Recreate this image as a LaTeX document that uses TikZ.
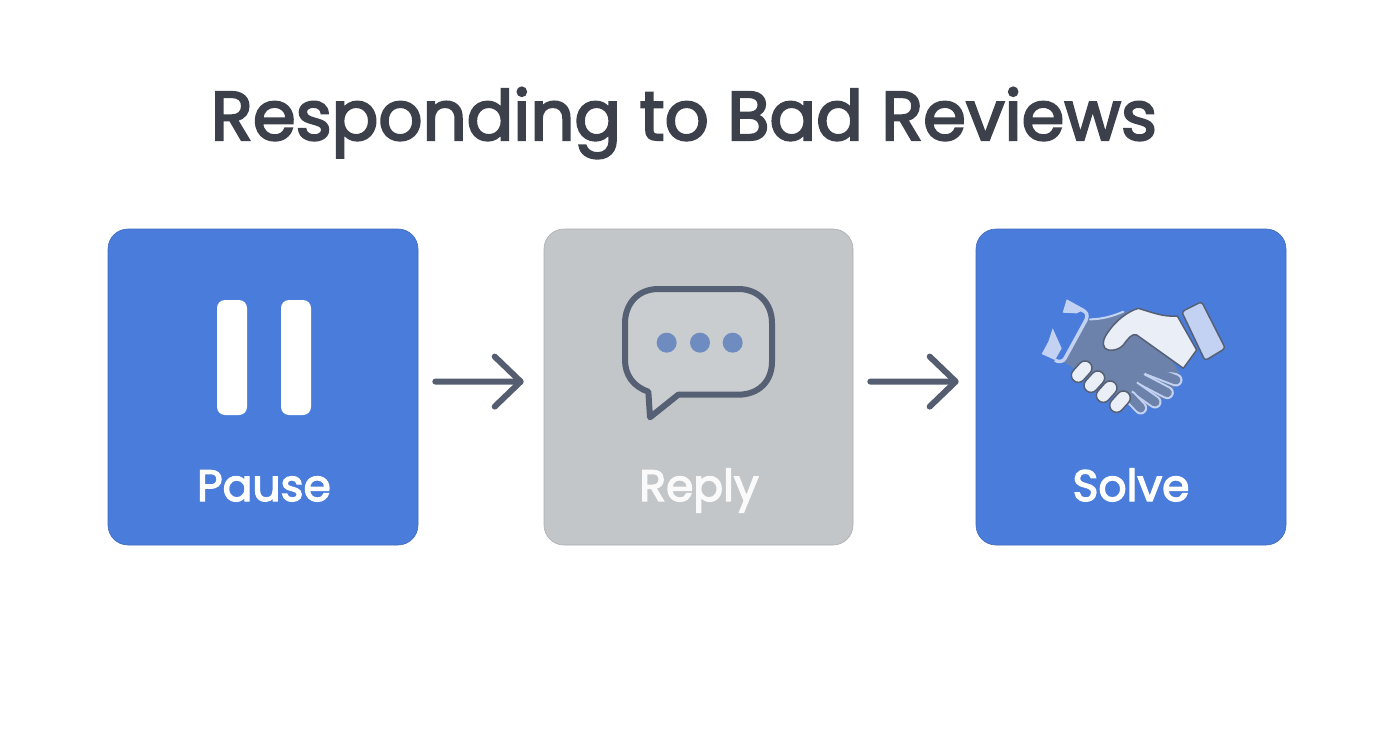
\documentclass[tikz,border=0pt]{standalone}
\usepackage{fontspec}
\usepackage{tikz}
\setmainfont{Poppins}
\newfontfamily\heavyfont[FakeBold=3]{Poppins}
\usetikzlibrary{arrows.meta}
\definecolor{cardblue}{HTML}{4A7DDB}
\definecolor{cardgray}{HTML}{C3C6C8}
\definecolor{inkdark}{HTML}{3C404B}
\definecolor{inkarrow}{HTML}{555E70}
\definecolor{inkline}{HTML}{566074}
\definecolor{dotblue}{HTML}{6E8CC0}
\definecolor{handdark}{HTML}{6C82AA}
\definecolor{handlight}{HTML}{E9EEF7}
\definecolor{cufflight}{HTML}{C3D2F2}
\tikzset{
    card/.style={rectangle, rounded corners=20pt, minimum width=310pt, minimum height=316pt, inner sep=0pt},
    cardlabel/.style={font=\heavyfont\fontsize{44}{50}\selectfont, inner sep=0pt, anchor=base},
    flowarrow/.style={draw=inkarrow, line width=6pt, line cap=round, -{Straight Barb[length=26pt, width=50pt, line width=6pt, round]}},
    handline/.style={draw=inkline, line width=1.5pt, line join=round},
    fingertip/.style={handline, fill=handlight, rounded corners=7pt},
    fingerouter/.style={draw=cufflight, line width=13pt, line cap=round},
    fingerinner/.style={draw=handdark, line width=9pt, line cap=round},
}
\begin{document}
\begin{tikzpicture}[x=1pt, y=-1pt]
    \useasboundingbox (0, 0) rectangle (1392, 752);
    \fill[white] (0, 0) rectangle (1392, 752);

    % Nodes
    \node[font=\heavyfont\fontsize{69}{76}\selectfont, text=inkdark, inner sep=0pt, anchor=base] (title) at (684, 140) {Responding to Bad Reviews};
    \node[card, fill=cardblue, draw=cardblue!85!black, line width=0.6pt] (pause) at (263, 387) {};
    \node[card, fill=cardgray, draw=cardgray!88!black, line width=0.6pt, minimum width=309pt] (reply) at (698.5, 387) {};
    \node[card, fill=cardblue, draw=cardblue!85!black, line width=0.6pt] (solve) at (1131, 387) {};
    \node[cardlabel, text=white] (pauselabel) at (264, 501) {Pause};
    \node[cardlabel, text=white!92!cardgray] (replylabel) at (699, 501) {Reply};
    \node[cardlabel, text=white] (solvelabel) at (1131, 501) {Solve};

    % Lines
    \draw[flowarrow, shorten <=17pt, shorten >=20pt] (pause.2) -- (reply.178);
    \draw[flowarrow, shorten <=17pt, shorten >=17pt] (reply.2) -- (solve.178);

    % Pause bars
    \fill[white, rounded corners=8pt] (217, 300) rectangle (247, 415);
    \fill[white, rounded corners=8pt] (281, 300) rectangle (311, 415);

    % Speech bubble
    \begin{scope}[shift={(600, 270)}, scale=1/3]
        \draw[draw=inkline, fill=white!12!cardgray, line width=6pt, line join=round]
            (175, 57) -- (415, 57) .. controls (475, 57) and (516, 100) .. (516, 160)
            -- (516, 275) .. controls (516, 335) and (475, 374) .. (415, 374)
            -- (235, 374) -- (150, 442) -- (145, 365)
            .. controls (100, 350) and (75, 315) .. (75, 270)
            -- (75, 160) .. controls (75, 100) and (115, 57) .. (175, 57) -- cycle;
        \foreach \x in {200, 300, 398}
            \fill[dotblue] (\x, 218) circle (30pt);
    \end{scope}

    % Handshake
    \begin{scope}[shift={(1020, 280)}, scale=1/3]
        % right fingers
        \fill[handdark] (385, 268) -- (472, 308) -- (445, 345) -- (405, 370) -- (360, 385) -- (330, 350) -- cycle;
        \foreach \ax/\ay/\bx/\by in {385/268/468/300, 360/295/442/338, 340/320/405/366, 330/350/362/384} {
            \draw[fingerouter] (\ax, \ay) -- (\bx, \by);
            \draw[fingerinner] (\ax, \ay) -- (\bx, \by);
        }
        % left hand
        \fill[handdark] (205, 118) .. controls (250, 118) and (290, 105) .. (350, 85)
            -- (480, 280) -- (385, 268) -- (360, 295) -- (340, 320) -- (330, 350)
            -- (320, 370) -- (170, 270) -- (130, 245) -- cycle;
        \draw[draw=cufflight, line width=2pt, line cap=round] (210, 118) .. controls (245, 118) and (280, 108) .. (310, 95);
        % left cuff
        \draw[draw=cufflight, line width=3.5pt, line join=round]
            (185, 90) .. controls (200, 95) and (205, 105) .. (198, 120)
            -- (135, 235) .. controls (130, 245) and (115, 248) .. (105, 240);
        \fill[cufflight] (140, 58) -- (195, 88) -- (170, 100) -- (128, 98) -- cycle;
        \fill[cufflight] (98, 145) -- (125, 205) -- (105, 240) -- (65, 222) -- (85, 185) -- cycle;
        % right hand
        \draw[handline, fill=handlight] (355, 85) .. controls (390, 95) and (430, 112) .. (472, 108)
            -- (530, 210) -- (490, 265) -- (350, 165)
            .. controls (335, 160) and (325, 175) .. (310, 195)
            .. controls (295, 212) and (265, 215) .. (255, 205)
            .. controls (245, 190) and (250, 175) .. (265, 155)
            .. controls (285, 125) and (320, 95) .. (355, 85) -- cycle;
        % right cuff
        \draw[handline, fill=cufflight, rounded corners=3pt] (485, 95) -- (545, 65) -- (616, 205) -- (555, 242) -- cycle;
        % white fingers
        \foreach \cx/\cy in {185/275, 223/305, 260/335, 300/365}
            \draw[fingertip, rotate around={48:(\cx, \cy)}] (\cx-36, \cy-21) rectangle (\cx+36, \cy+21);
    \end{scope}
\end{tikzpicture}
\end{document}
